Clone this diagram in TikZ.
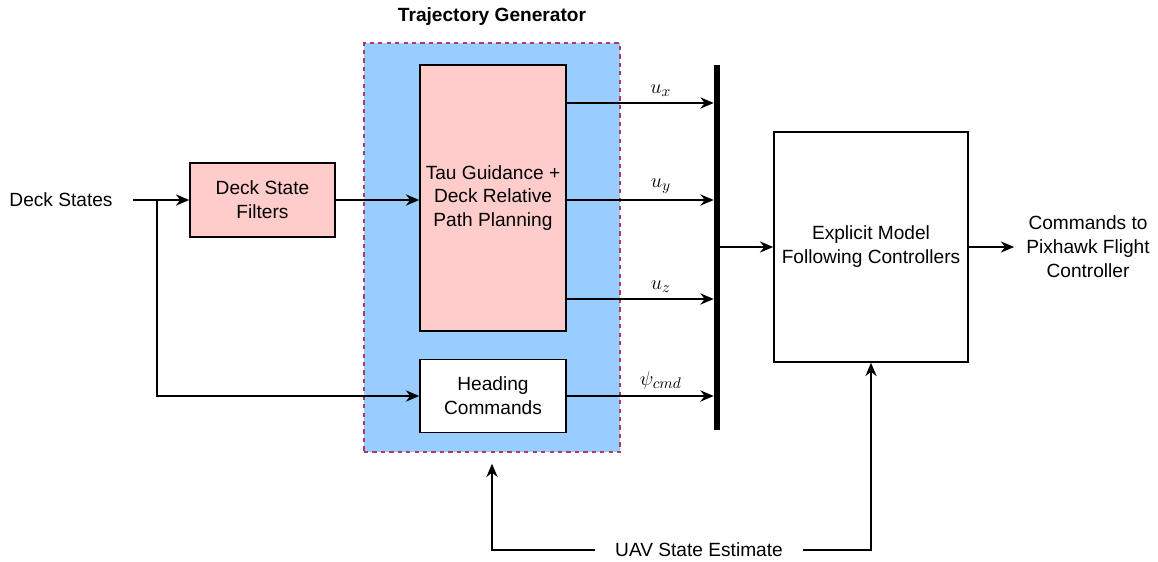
\documentclass[tikz,border=0pt]{standalone}
\usepackage{fontspec}
\setmainfont{Liberation Sans}
\usetikzlibrary{arrows.meta, positioning, calc}
\definecolor{tgblue}{RGB}{153,204,255}
\definecolor{blockpink}{RGB}{255,204,204}
\definecolor{dashred}{RGB}{175,60,95}
\newcommand{\diagfont}{\fontsize{13.6}{17}\selectfont}
\newcommand{\sigfont}{\fontsize{15.5}{18}\selectfont}
\tikzset{
  base/.style={draw=black, line width=1.1pt, align=center, font=\diagfont, inner sep=2pt},
  block/.style={base, fill=blockpink},
  plain/.style={base, fill=white},
  group/.style={draw=dashred, dashed, line width=1pt, fill=tgblue, inner sep=0pt},
  busbar/.style={fill=black, inner sep=0pt, minimum width=0.15cm, minimum height=9.125cm},
  arr/.style={-{Stealth[length=9.5pt, width=8pt]}, line width=1.2pt},
  sig/.style={font=\sigfont, above=1pt},
  txt/.style={font=\diagfont, align=center},
}

\begin{document}
\begin{tikzpicture}
  \useasboundingbox (0,0) rectangle (28.95,-14.025);

  % Trajectory generator group
  \node[group, minimum width=6.4cm, minimum height=10.225cm] (tg) at (12.3,-6.1875) {};
  \node[txt, font=\diagfont\bfseries] (tgtitle) at (12.3,-0.425) {Trajectory Generator};

  % Blocks
  \node[block, minimum width=3.625cm, minimum height=1.85cm] (filters) at (6.5625,-5) {Deck State\\Filters};
  \node[block, minimum width=3.65cm, minimum height=6.65cm] (tau) at (12.325,-4.95) {Tau Guidance +\\Deck Relative\\Path Planning};
  \node[plain, minimum width=3.65cm, minimum height=1.825cm] (heading) at (12.325,-9.9) {Heading\\Commands};
  \node[busbar] (bus) at (17.925,-6.1875) {};
  \node[plain, minimum width=4.85cm, minimum height=5.75cm] (emf) at (21.775,-6.175) {Explicit Model\\Following Controllers};

  % Inputs and outputs
  \node[txt, inner xsep=0.5cm] (deck) at (1.525,-5) {Deck States};
  \node[txt, inner xsep=0.3cm] (cmds) at (27.2,-6.175) {Commands to\\Pixhawk Flight\\Controller};
  \node[txt, inner xsep=0.5cm] (uav) at (17.475,-13.75) {UAV State Estimate};

  \coordinate (split) at (3.925,-5);
  \coordinate (yx) at (0,-2.575);
  \coordinate (yy) at (0,-5);
  \coordinate (yz) at (0,-7.475);

  % Connectors
  \draw[arr] (deck.east) -- (filters.west);
  \draw[arr] (split) |- (heading.west);
  \draw[arr] (filters.east) -- (filters.east -| tau.west);
  \draw[arr] (tau.east |- yx) -- node[sig, pos=0.64]{$u_x$} (bus.west |- yx);
  \draw[arr] (tau.east |- yy) -- node[sig, pos=0.64]{$u_y$} (bus.west |- yy);
  \draw[arr] (tau.east |- yz) -- node[sig, pos=0.64]{$u_z$} (bus.west |- yz);
  \draw[arr] (heading.east) -- node[sig, pos=0.64]{$\psi_{cmd}$} (heading.east -| bus.west);
  \draw[arr] (bus.east |- emf.west) -- (emf.west);
  \draw[arr] (emf.east) -- (cmds.west);
  \draw[arr] (uav.west) -| ([yshift=-0.275cm]tg.south);
  \draw[arr] (uav.east) -| (emf.south);
\end{tikzpicture}
\end{document}
